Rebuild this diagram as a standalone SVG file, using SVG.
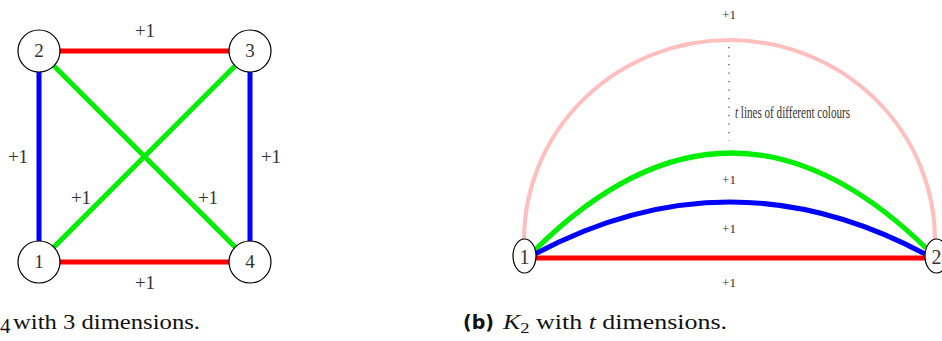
<svg xmlns="http://www.w3.org/2000/svg" width="942" height="341" viewBox="0 0 942 341">
<style>
.t{font-family:"Liberation Serif","DejaVu Serif",serif;fill:#333;}
.lab{font-size:19px;text-anchor:middle;}
.sm{font-size:13px;text-anchor:middle;}
.node{fill:#fff;stroke:#000;stroke-width:1.2;}
.e{fill:none;stroke-width:5;}
.red{stroke:#ff0000;}
.blue{stroke:#0000ff;}
.green{stroke:#00ee00;}
.cap{font-family:"Liberation Serif","DejaVu Serif",serif;font-size:21px;fill:#111;}
</style>
<g id="connectors">
  <line class="e red" x1="39" y1="51" x2="250" y2="51"/>
  <line class="e red" x1="39" y1="262" x2="250" y2="262"/>
  <line class="e blue" x1="39" y1="51" x2="39" y2="262"/>
  <line class="e blue" x1="250" y1="51" x2="250" y2="262"/>
  <line class="e green" x1="39" y1="51" x2="250" y2="262"/>
  <line class="e green" x1="250" y1="51" x2="39" y2="262"/>
  <path d="M524,240 A205.5,200 0 0 1 935,240" fill="none" stroke="#ffbfbf" stroke-width="4"/>
  <path d="M535,250 Q730,57 926,248" class="e green" stroke-width="4.5"/>
  <path d="M535,254 Q730,150 925,254" class="e blue"/>
  <line class="e red" x1="535" y1="258" x2="925" y2="258"/>
  <line x1="729" y1="47" x2="729" y2="141" stroke="#444" stroke-width="1.2" stroke-dasharray="1.2,7.3"/>
</g>
<g id="n2"><circle class="node" cx="39" cy="51" r="21"/><text class="t lab" x="39" y="57">2</text></g>
<g id="n3"><circle class="node" cx="250" cy="51" r="21"/><text class="t lab" x="250" y="57">3</text></g>
<g id="n1"><circle class="node" cx="39" cy="262" r="21"/><text class="t lab" x="39" y="268">1</text></g>
<g id="n4"><circle class="node" cx="250" cy="262" r="21"/><text class="t lab" x="250" y="268">4</text></g>
<g id="labels-a">
  <text class="t lab" x="145" y="37">+1</text>
  <text class="t lab" x="145" y="289">+1</text>
  <text class="t lab" x="18" y="163">+1</text>
  <text class="t lab" x="271" y="163">+1</text>
  <text class="t lab" x="81" y="204">+1</text>
  <text class="t lab" x="208" y="204">+1</text>
</g>
<g id="k1"><ellipse class="node" cx="524.5" cy="256" rx="11.5" ry="17"/><text class="t" x="524.5" y="264" font-size="21" text-anchor="middle" textLength="10" lengthAdjust="spacingAndGlyphs">1</text></g>
<g id="k2"><ellipse class="node" cx="936.5" cy="256" rx="11.5" ry="17"/><text class="t" x="936.5" y="264" font-size="21" text-anchor="middle" textLength="10" lengthAdjust="spacingAndGlyphs">2</text></g>
<g id="labels-b">
  <text class="t sm" x="729" y="19">+1</text>
  <text class="t sm" x="729" y="184">+1</text>
  <text class="t sm" x="729" y="233">+1</text>
  <text class="t sm" x="729" y="287">+1</text>
  <text class="t" x="735" y="118" font-size="16" textLength="115" lengthAdjust="spacingAndGlyphs"><tspan font-style="italic">t</tspan> lines of different colours</text>
</g>
<g id="captions">
  <text class="cap" x="0" y="333" font-size="12">4</text>
  <text class="cap" x="13" y="329" textLength="187" lengthAdjust="spacingAndGlyphs">with 3 dimensions.</text>
  <text x="463" y="329" font-family="'DejaVu Sans',sans-serif" font-weight="bold" font-size="19" fill="#111">(b)</text>
  <text class="cap" x="503" y="329" textLength="224" lengthAdjust="spacingAndGlyphs"><tspan font-style="italic">K</tspan><tspan font-size="15" dy="4">2</tspan><tspan dy="-4"> with </tspan><tspan font-style="italic">t</tspan> dimensions.</text>
</g>
</svg>
